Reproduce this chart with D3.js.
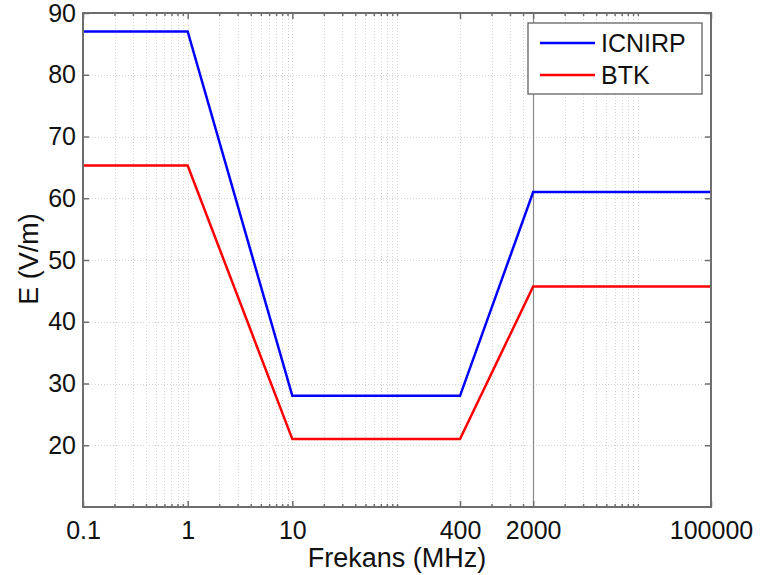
<!DOCTYPE html>
<html>
<head>
<meta charset="utf-8">
<script src="https://cdn.jsdelivr.net/npm/d3@7"></script>
<style>
  body { margin: 0; background: #fff; }
  svg { font-family: "Liberation Sans", Arial, sans-serif; }
</style>
</head>
<body>
<div id="chart"></div>
<script>
// Data
var freqs = [0.1, 1, 10, 400, 2000, 100000];
var icnirp = [87, 87, 28, 28, 61, 61];
var btk = [65.3, 65.3, 21, 21, 45.7, 45.7];
var seriesNames = ['ICNIRP', 'BTK'];
var seriesColors = ['#0000ff', '#ff0000'];

var xMajorTicks = [0.1, 1, 10, 400, 2000, 100000];
var xMinorTicks = [0.2, 0.3, 0.4, 0.5, 0.6, 0.7, 0.8, 0.9,
                   2, 3, 4, 5, 6, 7, 8, 9,
                   20, 30, 40, 50, 60, 70, 80, 90, 100,
                   800, 1200, 1600,
                   4000, 6000, 8000, 10000, 12000, 14000, 16000, 18000, 20000];
var yTicks = [20, 30, 40, 50, 60, 70, 80, 90];

var width = 760;
var height = 575;
var margin = { top: 13, right: 49, bottom: 68, left: 83 };
var W = width - margin.left - margin.right;
var H = height - margin.top - margin.bottom;
var axisColor = '#6e6e6e';

var svg = d3.select('#chart').append('svg')
    .attr('width', width)
    .attr('height', height);

var g = svg.append('g')
    .attr('transform', `translate(${margin.left},${margin.top})`);

var x = d3.scaleLog().domain([0.1, 100000]).range([0, W]);
var y = d3.scaleLinear().domain([10, 90]).range([H, 0]);

// Grid
var grid = g.append('g').attr('class', 'grid')
    .attr('stroke', '#d4d4d4')
    .attr('stroke-width', 1)
    .attr('stroke-dasharray', '1,2');

grid.selectAll('.gx')
    .data(xMinorTicks.concat(xMajorTicks.filter(d => d !== 2000)))
    .enter()
    .append('line')
    .attr('x1', d => Math.round(x(d)) + 0.5)
    .attr('x2', d => Math.round(x(d)) + 0.5)
    .attr('y1', 0)
    .attr('y2', H);

grid.selectAll('.gy')
    .data(yTicks)
    .enter()
    .append('line')
    .attr('x1', 0)
    .attr('x2', W)
    .attr('y1', d => Math.round(y(d)) + 0.5)
    .attr('y2', d => Math.round(y(d)) + 0.5);

// solid line at 2000 MHz
g.append('line')
    .attr('x1', Math.round(x(2000)) + 0.5)
    .attr('x2', Math.round(x(2000)) + 0.5)
    .attr('y1', 0)
    .attr('y2', H)
    .attr('stroke', '#8a8a8a')
    .attr('stroke-width', 1.2);

// Series lines
var line = d3.line()
    .x(d => x(d[0]))
    .y(d => y(d[1]));

[icnirp, btk].forEach(function(vals, i) {
    g.append('path')
        .datum(freqs.map((f, j) => [f, vals[j]]))
        .attr('fill', 'none')
        .attr('stroke', seriesColors[i])
        .attr('stroke-width', 2.5)
        .attr('stroke-linejoin', 'miter')
        .attr('d', line);
});

// Axes (inward ticks, box on)
function styleAxis(sel) {
    sel.select('.domain').remove();
    sel.selectAll('line').attr('stroke', axisColor).attr('stroke-width', 1.5);
    sel.selectAll('text')
        .attr('fill', '#111')
        .style('font-size', '25px');
}

var xBottom = g.append('g')
    .attr('transform', `translate(0,${H})`)
    .call(d3.axisBottom(x).tickValues(xMajorTicks)
        .tickSize(-6).tickPadding(14)
        .tickFormat(d => String(d)));
styleAxis(xBottom);

var xBottomMinor = g.append('g')
    .attr('transform', `translate(0,${H})`)
    .call(d3.axisBottom(x).tickValues(xMinorTicks).tickSize(-3).tickFormat(''));
styleAxis(xBottomMinor);

var xTop = g.append('g')
    .call(d3.axisTop(x).tickValues(xMajorTicks).tickSize(-6).tickFormat(''));
styleAxis(xTop);
var xTopMinor = g.append('g')
    .call(d3.axisTop(x).tickValues(xMinorTicks).tickSize(-3).tickFormat(''));
styleAxis(xTopMinor);

var yLeft = g.append('g')
    .call(d3.axisLeft(y).tickValues(yTicks).tickSize(-6).tickPadding(7));
styleAxis(yLeft);

var yRight = g.append('g')
    .attr('transform', `translate(${W},0)`)
    .call(d3.axisRight(y).tickValues(yTicks).tickSize(-6).tickFormat(''));
styleAxis(yRight);

// Box
g.append('rect')
    .attr('x', 0).attr('y', 0)
    .attr('width', W).attr('height', H)
    .attr('fill', 'none')
    .attr('stroke', axisColor)
    .attr('stroke-width', 2);

// Axis labels
svg.append('text')
    .attr('x', margin.left + W / 2)
    .attr('y', 567)
    .attr('text-anchor', 'middle')
    .style('font-size', '27px')
    .attr('fill', '#111')
    .text('Frekans (MHz)');

svg.append('text')
    .attr('transform', `translate(38,259) rotate(-90)`)
    .attr('text-anchor', 'middle')
    .style('font-size', '27px')
    .attr('fill', '#111')
    .text('E (V/m)');

// Legend
var legend = svg.append('g').attr('transform', 'translate(528,23)');
legend.append('rect')
    .attr('width', 174).attr('height', 71)
    .attr('fill', '#fff')
    .attr('stroke', '#555')
    .attr('stroke-width', 1.2);

seriesNames.forEach(function(name, i) {
    var ly = 20 + i * 32;
    legend.append('line')
        .attr('x1', 12).attr('x2', 67)
        .attr('y1', ly).attr('y2', ly)
        .attr('stroke', seriesColors[i])
        .attr('stroke-width', 2.5);
    legend.append('text')
        .attr('x', 73).attr('y', ly + 9)
        .style('font-size', '25px')
        .attr('fill', '#111')
        .text(name);
});
</script>
</body>
</html>
